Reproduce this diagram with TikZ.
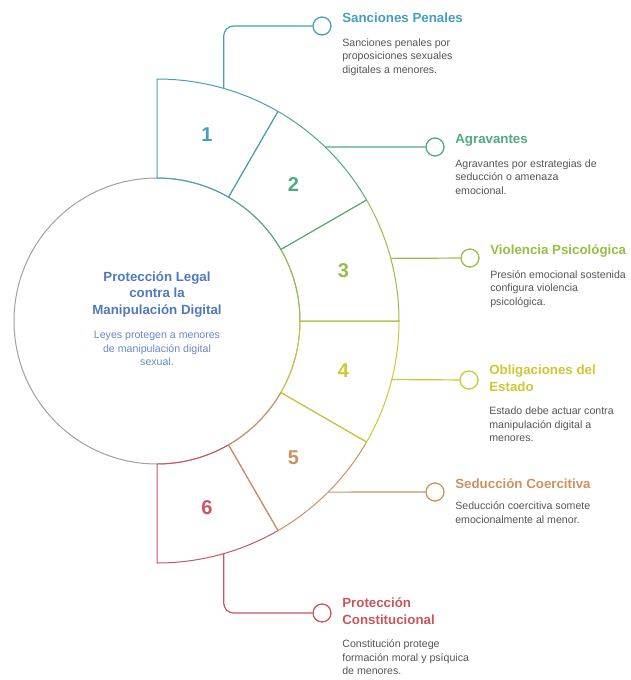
\documentclass[tikz,border=0pt]{standalone}
\usepackage{fontspec}
\setmainfont{Liberation Sans}
\usetikzlibrary{positioning,calc}
\definecolor{cA}{RGB}{70,158,190}
\definecolor{cB}{RGB}{78,170,130}
\definecolor{cC}{RGB}{150,190,70}
\definecolor{cD}{RGB}{205,200,50}
\definecolor{cE}{RGB}{205,145,95}
\definecolor{cF}{RGB}{200,85,95}
\definecolor{hubblue}{RGB}{80,120,190}
\definecolor{hubtext}{RGB}{105,135,200}
\definecolor{desctext}{RGB}{85,85,85}
\definecolor{ringgray}{RGB}{160,160,160}

\begin{document}
\begin{tikzpicture}[x=1pt,y=-1pt,line join=round,
	seg/.style={draw=#1,line width=1pt},
	num/.style={text=#1,font=\fontsize{20}{20}\selectfont\bfseries},
	dot/.style={circle,draw=#1,fill=white,line width=1.3pt,minimum size=18pt,inner sep=0pt},
	link/.style={draw=#1,line width=1.2pt,rounded corners=10pt},
	ttl/.style={text=#1,font=\fontsize{13.3}{16.5}\selectfont\bfseries,align=left,inner sep=0pt,
		execute at begin node=\strut,execute at end node=\strut},
	desc/.style={text=desctext,font=\fontsize{10.6}{13.5}\selectfont,align=left,inner sep=0pt,
		execute at begin node=\strut}]
		\useasboundingbox (0,0) rectangle (630,680);
		\node[circle,draw=ringgray,line width=1pt,minimum size=286pt,inner sep=0pt] (hub) at (157,321) {};
		
		\foreach \i/\cl in {6/cF,5/cE,4/cD,3/cC,2/cB,1/cA}{
			\pgfmathsetmacro\a{-120+30*\i}
			\pgfmathsetmacro\b{-90+30*\i}
			\pgfmathsetmacro\m{-105+30*\i}
			\draw[seg=\cl,shift={(157,321)}] (\a:143) -- (\a:242) arc[start angle=\a,end angle=\b,radius=242]
				-- (\b:143) arc[start angle=\b,end angle=\a,radius=143] -- cycle;
			\node[num=\cl] (n\i) at ($(hub.center)+(\m:193)$) {\i};
		}
		
		\node[ttl=hubblue,align=center] (ht) at ([yshift=25.5pt]hub.center) {Protección Legal\\contra la\\Manipulación Digital};
		\node[desc,text=hubtext,align=center] (hd) [below=11.7pt of ht] {Leyes protegen a menores\\de manipulación digital\\sexual.};
		
		\coordinate (s1) at ($(hub.center)+(-74:242)$);
		\coordinate (s2) at ($(hub.center)+(-46:242)$);
		\coordinate (s3) at ($(hub.center)+(-15:242)$);
		\coordinate (s4) at ($(hub.center)+(14:242)$);
		\coordinate (s5) at ($(hub.center)+(45:242)$);
		\coordinate (s6) at ($(hub.center)+(74:242)$);
		
		\node[dot=cA] (c1) at (322,26) {};
		\node[dot=cB] (c2) at (435,147) {};
		\node[dot=cC] (c3) at (470,258) {};
		\node[dot=cD] (c4) at (469,380) {};
		\node[dot=cE] (c5) at (435,492) {};
		\node[dot=cF] (c6) at (322,613) {};
		
		\draw[link=cA] (s1) |- (c1);
		\draw[link=cB] (s2) -- (c2);
		\draw[link=cC] (s3) -- (c3);
		\draw[link=cD] (s4) -- (c4);
		\draw[link=cE] (s5) -- (c5);
		\draw[link=cF] (s6) |- (c6);
		
		\node[ttl=cA] (t1) [below right=-15.3pt and 10.5pt of c1.east] {Sanciones Penales};
		\node[ttl=cB] (t2) [below right=-15.3pt and 10.5pt of c2.east] {Agravantes};
		\node[ttl=cC] (t3) [below right=-15.3pt and 10.5pt of c3.east] {Violencia Psicológica};
		\node[ttl=cD] (t4) [below right=-15.3pt and 10.5pt of c4.east] {Obligaciones del\\Estado};
		\node[ttl=cE] (t5) [below right=-15.3pt and 10.5pt of c5.east] {Seducción Coercitiva};
		\node[ttl=cF] (t6) [below right=-15.3pt and 10.5pt of c6.east] {Protección\\Constitucional};
		
		\node[desc] (d1) [below right=10.6pt and 0pt of t1.south west] {Sanciones penales por\\proposiciones sexuales\\digitales a menores.};
		\node[desc] (d2) [below right=10.6pt and 0pt of t2.south west] {Agravantes por estrategias de\\seducción o amenaza\\emocional.};
		\node[desc] (d3) [below right=10.6pt and 0pt of t3.south west] {Presión emocional sostenida\\configura violencia\\psicológica.};
		\node[desc] (d4) [below right=10.6pt and 0pt of t4.south west] {Estado debe actuar contra\\manipulación digital a\\menores.};
		\node[desc] (d5) [below right=8pt and 0pt of t5.south west] {Seducción coercitiva somete\\emocionalmente al menor.};
		\node[desc] (d6) [below right=10.6pt and 0pt of t6.south west] {Constitución protege\\formación moral y psíquica\\de menores.};
\end{tikzpicture}
\end{document}
